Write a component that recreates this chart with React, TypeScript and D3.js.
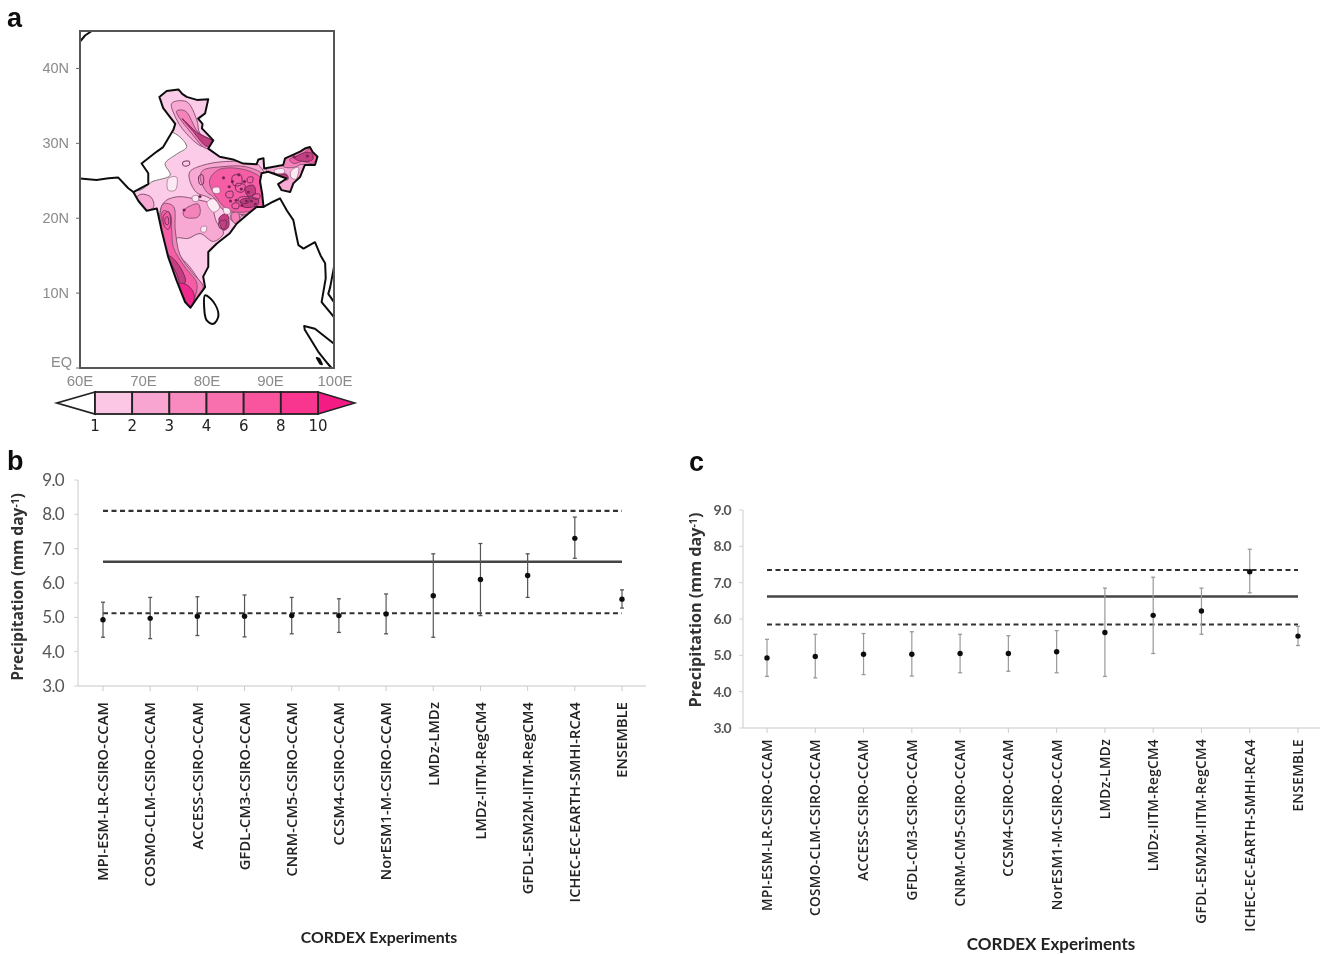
import React from "react";
import * as d3 from "d3";

type P = [number, number];

// ---------- Panels b / c data ----------
const experiments = ["MPI-ESM-LR-CSIRO-CCAM","COSMO-CLM-CSIRO-CCAM","ACCESS-CSIRO-CCAM","GFDL-CM3-CSIRO-CCAM","CNRM-CM5-CSIRO-CCAM","CCSM4-CSIRO-CCAM","NorESM1-M-CSIRO-CCAM","LMDz-LMDz","LMDz-IITM-RegCM4","GFDL-ESM2M-IITM-RegCM4","ICHEC-EC-EARTH-SMHI-RCA4","ENSEMBLE"];
const means = [4.93,4.97,5.03,5.03,5.05,5.05,5.1,5.63,6.1,6.22,7.3,5.53];
const lows = [4.42,4.38,4.47,4.43,4.52,4.56,4.52,4.42,5.05,5.58,6.72,5.27];
const highs = [5.44,5.58,5.6,5.65,5.58,5.54,5.68,6.85,7.15,6.85,7.92,5.8];
const yTicks = [3,4,5,6,7,8,9];
const solidB = 6.62, dashedB = [8.1,5.12];
const solidC = 6.62, dashedC = [7.35,5.85];

// ---------- Panel a data (lon, lat) ----------
const india: P[] = [[72.5,36.2],[73.65,37],[75.5,37.2],[76.1,36.6],[76.8,36.2],[78.4,35.8],[80.2,35.9],[79.7,34],[78.6,33.3],[79.3,32.6],[79.2,32],[81,30.4],[80.2,29.3],[82,28.2],[84.1,27.85],[85.7,27.3],[87.8,27.2],[88.1,27.85],[88.9,28],[89,26.65],[92,27.1],[92.3,28],[94.65,28.9],[95.4,29.3],[96.2,29.5],[96.6,28.9],[97.4,28.2],[97,27.1],[95.4,27.1],[94.65,25.5],[93.6,24.65],[93.1,23.5],[91.75,23.75],[91.2,24.55],[92.55,25.3],[89.65,26.2],[88.6,26],[88.35,24.9],[88.7,23.2],[88.9,21.5],[87.8,21.5],[86.5,20.6],[84.7,19.3],[83.6,18],[81.5,16.6],[80.2,15.5],[80.2,13.5],[79.4,12.2],[79.7,10.8],[78.4,9.3],[77.4,8.05],[76.55,8.8],[75.2,11.7],[73.9,14.8],[72.85,18.4],[72.1,21.3],[70.5,21],[69.2,22.3],[68.4,23.5],[70.75,24.55],[70.75,26],[69.7,27.3],[72.1,28.9],[73.1,29.5],[74.7,31.8],[75,32.6],[73.1,34.7]];
const coastWest: P[] = [[60,25.3],[62.6,25.1],[64.5,25.35],[66,25.45],[67.6,24],[68.4,23.5]];
const coastEast: P[] = [[88.9,21.5],[90.4,22.2],[91.5,22.65],[92.6,21],[93.6,19.75],[94,18],[94.4,16.4],[95.2,15.95],[97,16.8],[97.9,15],[98.6,14],[98.7,12],[98.05,8.8],[100,6.8]];
const coastMalay: P[] = [[100,13.5],[99.4,10.8],[99.1,9.9],[100,8.8]];
const sriLanka: P[] = [[79.7,9.7],[81,8.85],[81.8,7],[81,5.9],[79.95,6.35],[79.55,8.15]];
const sumatraN: P[] = [[100,3.25],[97,5.25],[95.3,5.6],[95.4,5.1],[97.5,2.2],[99,0.6],[99.6,0]];
const topLeft: P[] = [[60,43.6],[60.8,44.4],[61.85,45]];
const island: P[] = [[97.3,1.35],[97.7,1.2],[98.1,0.5],[97.8,0.6]];

const whiteRaj: P[] = [[74.2,31.55],[76.8,29.55],[75.2,28.55],[73.4,27.3],[74.2,25.75],[71.3,24.85],[69.45,23.75],[66.8,24.2],[68.4,29.1]];
const whiteHoles: P[][] = [
  [[73.9,25.3],[75.2,25.5],[75,23.75],[73.9,23.75]],
  [[80.9,24],[81.9,24.1],[82,23.4],[81,23.4]],
  [[77.7,22.9],[78.6,23],[78.6,22.3],[77.8,22.3]],
  [[80,22.1],[81,22.6],[82,21.4],[81,20.8]],
  [[82.6,21.4],[83.6,21.2],[83.6,20.6],[82.8,20.6]],
  [[85,18.7],[86,19.4],[86,19],[84.7,18]],
  [[79.1,18.8],[79.9,18.9],[79.8,18.2],[79.1,18.2]],
  [[93.3,26.4],[94.4,26.8],[94,25.2],[93.2,25.5]],
  [[90.6,26.4],[92,26.6],[92.2,26.1],[90.8,26]],
];
const level2: P[][] = [
  [[74.45,35.35],[76.8,35.55],[78.4,33.1],[78.9,31.3],[81,30.2],[79.4,29.55],[76.5,31.55],[75,33.55]],
  [[77.3,26.2],[79.9,27.2],[84,27.6],[87.8,27.3],[89.5,25],[89.3,21.2],[86.75,20.2],[84.2,20.8],[81.9,22],[79.9,22.9],[78.4,23.4],[77.3,25]],
  [[73.1,22],[75.2,22.85],[78.9,22.4],[80.5,21.9],[81.5,19.5],[82.6,18],[81,16.9],[78.9,17.95],[77,17.3],[75.2,17.3],[75.5,15.3],[77.3,13.5],[78.6,11.9],[79.4,10.85],[78.4,9],[77.4,7.8],[75.8,9.8],[72.6,18.4]],
  [[69.6,23.2],[71.2,22.8],[71.6,21.5],[70.2,21],[68.8,22.6]],
  [[84.4,19.5],[85.5,20.5],[84.5,21],[83.6,20]],
  [[91.9,27.4],[94.7,29.2],[96.3,29.8],[97.8,28.2],[97,26.8],[95.3,26.8],[94.6,25.2],[93.3,23.2],[91.6,23.7],[91.1,24.5],[92.7,25.4],[90,25.8],[89.3,26.6]],
];
const level3: P[][] = [
  [[78.9,25.5],[79.4,26.4],[82.05,26.85],[86.25,26.85],[89.2,25.5],[89.4,21.5],[86.25,20.5],[82.6,21.1],[81,22.85],[79.95,23.5]],
  [[73.1,21.9],[74.7,21.6],[75,18.4],[75.75,15.1],[77.6,12.8],[79.4,10.85],[78.4,9.3],[77.4,7.9],[75.75,10],[73.65,15],[72.6,18.85]],
  [[76.3,21],[78.6,21.9],[78.9,20.6],[78.4,20.1],[76.5,20.2]],
  [[75.2,34.3],[76.6,34.3],[78.6,31.5],[81.2,30.1],[79.95,29.3],[77.6,31.3]],
  [[91.9,27.5],[94.7,29.2],[96.3,29.8],[97.7,28.2],[96.5,27],[94.8,27.2],[93.8,26.8],[92,26.9]],
  [[83.8,20.5],[84.8,20.9],[85.1,19.3],[84.2,19.4]],
];
const level4: P[][] = [
  [[80.4,25],[81.9,26.5],[86.25,26.4],[89,24.9],[89.2,21.5],[86.75,20.9],[83.6,21],[81.6,22.6]],
  [[73.1,21],[74.2,20.6],[74.45,18.4],[74.7,16.1],[76.5,13.5],[78.4,11.3],[78.1,9.4],[77.4,7.9],[76.2,9.5],[74.2,14.4],[72.85,18.4]],
  [[93,27.8],[95,28.6],[96.3,29.3],[97.3,28.2],[96.6,27.3],[95,27.6],[93.7,27.3]],
  [[90.2,26],[92.5,25.9],[92.8,25.2],[90.6,25.3]],
];
const level5: P[][] = [
  [[73.65,15.1],[74.7,14.6],[76.2,12.8],[76.6,11.6],[76,10.7],[75.2,12.6]],
  [[81.9,20],[83.1,20.6],[83.4,18.85],[82.6,18.4]],
  [[86,24],[87.3,24.4],[87.6,23.3],[86.5,22.9]],
  [[85.3,22.4],[88,22.6],[88,21.8],[85.8,21.5]],
  [[76.1,33.3],[78.5,31.4],[80.9,30.2],[80,29.6],[77.7,31.7]],
  [[93.8,28],[95.6,28.8],[96.6,28.6],[96.6,27.8],[95,27.6]],
  [[90.4,25.9],[92.6,25.7],[92.6,25.4],[90.6,25.5]],
];
const level6: P[][] = [
  [[75.6,11.3],[77,11],[78,9.7],[77.4,8],[76.5,9.2]],
];
const contourLoops: P[][] = [
  [[73.1,20.2],[73.9,20.9],[74.3,19.5],[73.9,18.5],[73.3,18.9]],
  [[73.4,20],[73.8,20.2],[73.9,19.2],[73.5,19.2]],
  [[76.2,27.5],[77.2,27.6],[77.2,27.1],[76.3,27]],
  [[78.7,25.6],[79.3,25.8],[79.4,24.6],[78.9,24.5]],
  [[84,25.6],[85.3,25.8],[85.4,24.5],[84.2,24.4]],
  [[84.6,24.6],[86,24.4],[85.6,23.5],[84.6,23.7]],
  [[81.9,19.5],[83,19.7],[82.8,18.6],[82,18.7]],
  [[85,22.7],[86.6,22.8],[86.4,22],[85.1,22.2]],
  [[83,23.4],[84,23.6],[84,22.8],[83.1,22.8]],
  [[86.4,25.4],[87.2,25.5],[87.1,24.8],[86.4,24.8]],
  [[84,21.9],[85,22],[84.9,21.3],[84,21.4]],
  [[87.2,23.1],[88.3,23.2],[88.2,22.6],[87.3,22.6]],
];
const darkSpecks: P[] = [[82.6,25.4],[84,24.9],[86.5,23.5],[87,22.3],[78.9,22.9],[76.4,21.1],[85,25.8],[85.5,21.7],[93.7,28.2],[95.8,28.3],[83.5,24.2],[85.4,23.9],[86.2,22.3],[84.6,22.4],[87.6,21.9],[83.7,22.3],[85.9,24.9]];

const barValues = ["1","2","3","4","6","8","10"];
const barColors = ["#fcc6e5","#f9a5d2","#f88abf","#f970ae","#f9549f","#f8348f"];
const endColor = "#f41d84";
const lonTicks = [60,70,80,90,100];
const latTicks = [0,10,20,30,40];

const lvl = { 1: "#fbcbe7", 2: "#f8a9d3", 3: "#f583bb", 4: "#f55da5", 5: "#c23f82", 6: "#f02a8c" };

const xMap = d3.scaleLinear().domain([60,100]).range([80,334]);
const yMap = d3.scaleLinear().domain([0,45]).range([368,31]);
const lin = d3.line<P>().x(d => xMap(d[0])).y(d => yMap(d[1]));
const smooth = d3.line<P>().x(d => xMap(d[0])).y(d => yMap(d[1])).curve(d3.curveCatmullRomClosed.alpha(0.5));
const close = (p: P[]) => lin(p) + "Z";

const FONT = "'Open Sans', sans-serif";

function MapPanel() {
  const barX = d3.scaleLinear().domain([0,6]).range([95,318]);
  const layers: [P[][], string][] = [
    [level2, lvl[2]], [level3, lvl[3]], [level4, lvl[4]], [level5, lvl[5]], [level6, lvl[6]],
  ];
  return (
    <g>
      <clipPath id="indiaClip"><path d={close(india)} /></clipPath>
      <clipPath id="boxClip"><rect x={80} y={31} width={254} height={337} /></clipPath>
      <path d={close(india)} fill={lvl[1]} />
      <g clipPath="url(#indiaClip)">
        <path d={smooth(whiteRaj)!} fill="#fff" stroke="#777" strokeWidth={1} />
        {layers.map(([polys, c], i) => polys.map((p, j) => (
          <path key={i + "-" + j} d={smooth(p)!} fill={c} stroke={i >= 3 ? "#7a2a58" : "#8a5575"} strokeWidth={1} />
        )))}
        {whiteHoles.map((p, i) => <path key={i} d={smooth(p)!} fill="#fbeaf3" stroke="#8a5575" strokeWidth={0.6} />)}
        {contourLoops.map((p, i) => <path key={i} d={smooth(p)!} fill="none" stroke="#74305c" strokeWidth={1} />)}
        {darkSpecks.map((d, i) => <circle key={i} cx={xMap(d[0])} cy={yMap(d[1])} r={1.6} fill="#7a2458" />)}
      </g>
      <g clipPath="url(#boxClip)" fill="none" stroke="#111" strokeWidth={2} strokeLinejoin="round">
        <path d={close(india)} />
        <path d={lin(coastWest)!} />
        <path d={lin(coastEast)!} />
        <path d={lin(coastMalay)!} />
        <path d={smooth(sriLanka)!} />
        <path d={lin(sumatraN)!} />
        <path d={lin(topLeft)!} />
        <path d={close(island)} fill="#111" />
      </g>
      <rect x={xMap(60)} y={yMap(45)} width={xMap(100)-xMap(60)} height={yMap(0)-yMap(45)} fill="none" stroke="#555" strokeWidth={2} />
      {latTicks.map(t => (
        <g key={t}>
          <line x1={xMap(60)-4} x2={xMap(60)} y1={yMap(t)} y2={yMap(t)} stroke="#666" />
          <text x={xMap(60)-(t===0?8:11)} y={yMap(t)+(t===0?-1:5)} textAnchor="end" fontFamily="'Liberation Sans', sans-serif" fontSize={14.5} fill="#8a8a8a">{t===0?"EQ":t+"N"}</text>
        </g>
      ))}
      {lonTicks.map(t => (
        <text key={t} x={xMap(t)+(t===100?1:0)} y={386} textAnchor="middle" fontFamily="'Liberation Sans', sans-serif" fontSize={15} fill="#8a8a8a">{t}E</text>
      ))}
      {/* colour bar */}
      <path d={`M${barX(0)},392 L${barX(0)-38},403 L${barX(0)},414 Z`} fill="#fff" stroke="#222" strokeWidth={1.8} />
      <path d={`M${barX(6)},392 L${barX(6)+37},403 L${barX(6)},414 Z`} fill={endColor} stroke="#222" strokeWidth={1.4} />
      {barColors.map((c, i) => (
        <rect key={i} x={barX(i)} y={392} width={barX(1)-barX(0)} height={22} fill={c} stroke="#222" strokeWidth={1.8} />
      ))}
      {barValues.map((v, i) => (
        <text key={v} x={barX(i)} y={431} textAnchor="middle" fontFamily="'DejaVu Sans', sans-serif" fontSize={15} fill="#222">{v}</text>
      ))}
    </g>
  );
}

interface PanelProps {
  x0: number; x1: number; axisX: number; axisEnd: number; yTop: number; yBot: number;
  solid: number; dashed: number[]; labelTop: number; labelSize: number; labelSpacing: number; tickSize: number; tickGap: number;
  yLabelX: number; yLabelY: number; yLabelSize: number; xTitleX: number; xTitleY: number; xTitleSize: number; whisker: string; dash: string;
}

function ErrPanel(p: PanelProps) {
  const x = d3.scalePoint<string>().domain(experiments).range([p.x0, p.x1]);
  const y = d3.scaleLinear().domain([3,9]).range([p.yBot, p.yTop]);
  return (
    <g>
      <line x1={p.axisX} x2={p.axisX} y1={y(9)} y2={y(3)} stroke="#d4d4d4" strokeWidth={1.2} />
      <line x1={p.axisX} x2={p.axisEnd} y1={y(3)} y2={y(3)} stroke="#c8c8c8" strokeWidth={1.2} />
      {yTicks.map(t => (
        <g key={t}>
          <line x1={p.axisX-4} x2={p.axisX} y1={y(t)} y2={y(t)} stroke="#d4d4d4" />
          <text x={p.axisX-p.tickGap} y={y(t)+p.tickSize*0.36} textAnchor="end" fontFamily="Lato, sans-serif" fontWeight={p.tickSize<15?700:400} fontSize={p.tickSize} letterSpacing={-0.7} fill="#555">{t.toFixed(1)}</text>
        </g>
      ))}
      {experiments.map(e => (
        <g key={e}>
          <line x1={x(e)} x2={x(e)} y1={y(3)} y2={y(3)+5} stroke="#ccc" />
          <text transform={`translate(${x(e)! + p.labelSize*0.36},${p.labelTop}) rotate(-90)`} textAnchor="end" fontFamily={FONT} fontWeight={600} fontSize={p.labelSize} letterSpacing={p.labelSpacing} fill="#222">{e}</text>
        </g>
      ))}
      {p.dashed.map(d => (
        <line key={d} x1={p.x0} x2={p.x1} y1={y(d)} y2={y(d)} stroke="#333" strokeWidth={2.1} strokeDasharray={p.dash} />
      ))}
      <line x1={p.x0} x2={p.x1} y1={y(p.solid)} y2={y(p.solid)} stroke="#444" strokeWidth={2.5} />
      {experiments.map((e, i) => (
        <g key={e}>
          <line x1={x(e)} x2={x(e)} y1={y(lows[i])} y2={y(highs[i])} stroke={p.whisker} strokeWidth={1.2} />
          <line x1={x(e)!-2} x2={x(e)!+2} y1={y(lows[i])} y2={y(lows[i])} stroke={p.whisker} strokeWidth={1.3} />
          <line x1={x(e)!-2} x2={x(e)!+2} y1={y(highs[i])} y2={y(highs[i])} stroke={p.whisker} strokeWidth={1.3} />
          <circle cx={x(e)} cy={y(means[i])} r={2.7} fill="#111" />
        </g>
      ))}
      <text transform={`translate(${p.yLabelX},${p.yLabelY}) rotate(-90)`} textAnchor="middle" fontFamily={FONT} fontWeight={700} fontSize={p.yLabelSize} fill="#333">
        Precipitation (mm day<tspan dy={-4} fontSize={p.yLabelSize*0.65}>-1</tspan><tspan dy={4}>)</tspan>
      </text>
      <text x={p.xTitleX} y={p.xTitleY} textAnchor="middle" fontFamily="Lato, sans-serif" fontWeight={700} fontSize={p.xTitleSize} fill="#222">CORDEX Experiments</text>
    </g>
  );
}

export default function App() {
  return (
    <svg width={1323} height={954} viewBox="0 0 1323 954" style={{ position: "absolute", left: 0, top: 0, background: "#fff" }}>
      <filter id="soft" x="0" y="0" width="100%" height="100%"><feGaussianBlur stdDeviation={0.55} /></filter>
      <g filter="url(#soft)">
        <text x={7} y={27} fontFamily="'Liberation Sans', sans-serif" fontWeight={700} fontSize={27} fill="#111">a</text>
        <text x={7} y={470} fontFamily="'Liberation Sans', sans-serif" fontWeight={700} fontSize={27} fill="#111">b</text>
        <text x={689} y={471} fontFamily="'Liberation Sans', sans-serif" fontWeight={700} fontSize={27} fill="#111">c</text>
        <MapPanel />
        <ErrPanel x0={103} x1={622} axisX={78} axisEnd={646} yTop={480} yBot={686} solid={solidB} dashed={dashedB}
          labelTop={702} labelSize={14.6} labelSpacing={0.1} tickSize={17} tickGap={14} yLabelX={23} yLabelY={587} yLabelSize={15.6} xTitleX={379} xTitleY={943} xTitleSize={15.8} whisker="#555" dash="5 3.5" />
        <ErrPanel x0={767} x1={1298} axisX={743} axisEnd={1320} yTop={510} yBot={728} solid={solidC} dashed={dashedC}
          labelTop={739} labelSize={13.6} labelSpacing={0.35} tickSize={14} tickGap={12} yLabelX={701} yLabelY={610} yLabelSize={16.2} xTitleX={1051} xTitleY={950} xTitleSize={17} whisker="#999" dash="5 3.5" />
      </g>
    </svg>
  );
}
